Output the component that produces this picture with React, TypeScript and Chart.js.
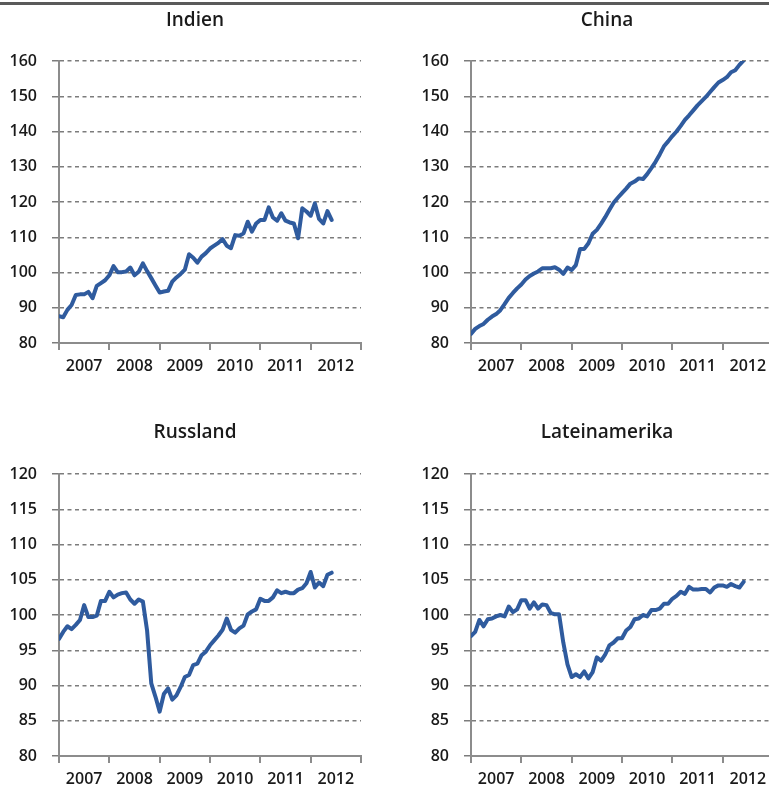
import React, { useEffect, useRef } from 'react';
import { Chart, registerables } from 'chart.js';

Chart.register(...registerables);

// ---- Data (monthly index values, Jan 2007 – Jun 2012) ----
const YEARS = ['2007', '2008', '2009', '2010', '2011', '2012'];

const INDIEN = [
  87.6, 87.3, 89.4, 90.8, 93.6, 93.8, 93.8, 94.5, 92.7, 96.2, 97.0, 97.8,
  99.2, 101.8, 100.1, 100.1, 100.3, 101.4, 99.2, 100.2, 102.6, 100.4, 98.4, 96.3,
  94.3, 94.6, 94.8, 97.4, 98.6, 99.6, 100.8, 105.2, 104.2, 102.8, 104.5, 105.5,
  106.8, 107.6, 108.4, 109.5, 107.6, 106.9, 110.6, 110.4, 111.1, 114.4, 111.6, 113.9,
  114.9, 114.9, 118.5, 115.6, 114.7, 116.8, 114.7, 114.2, 113.9, 109.7, 118.2, 117.3,
  116.1, 119.6, 115.2, 113.9, 117.4, 114.9,
];

const CHINA = [
  82.6, 84.0, 84.8, 85.4, 86.6, 87.5, 88.2, 89.3, 91.0, 92.8, 94.2, 95.5,
  96.6, 98.0, 99.0, 99.7, 100.3, 101.2, 101.2, 101.2, 101.5, 100.8, 99.6, 101.4,
  100.7, 102.1, 106.7, 106.7, 108.3, 111.0, 112.1, 113.8, 115.7, 117.8, 119.8, 121.2,
  122.5, 123.8, 125.2, 125.8, 126.7, 126.5, 127.9, 129.6, 131.4, 133.5, 135.8, 137.2,
  138.7, 140.0, 141.6, 143.3, 144.6, 146.0, 147.4, 148.6, 149.8, 151.2, 152.6, 153.9,
  154.6, 155.4, 156.8, 157.4, 158.9, 160.2,
];

const RUSSLAND = [
  96.6, 97.6, 98.4, 98.0, 98.6, 99.3, 101.4, 99.7, 99.7, 99.9, 102.0, 102.0,
  103.3, 102.5, 102.9, 103.1, 103.2, 102.2, 101.6, 102.2, 101.9, 97.8, 90.3, 88.4,
  86.3, 88.8, 89.6, 88.0, 88.6, 89.8, 91.2, 91.5, 92.9, 93.1, 94.3, 94.8,
  95.7, 96.4, 97.1, 97.9, 99.5, 97.9, 97.5, 98.1, 98.5, 100.1, 100.5, 100.8,
  102.3, 102.0, 102.0, 102.5, 103.5, 103.1, 103.3, 103.1, 103.1, 103.6, 103.8, 104.5,
  106.1, 103.9, 104.6, 104.1, 105.7, 106.0,
];

const LATEINAMERIKA = [
  97.0, 97.6, 99.3, 98.4, 99.4, 99.5, 99.8, 100.0, 99.8, 101.2, 100.4, 100.8,
  102.1, 102.1, 100.9, 101.8, 100.9, 101.5, 101.4, 100.3, 100.1, 100.1, 96.1, 93.0,
  91.2, 91.6, 91.2, 92.0, 91.0, 91.9, 94.0, 93.5, 94.4, 95.7, 96.1, 96.7,
  96.7, 97.8, 98.3, 99.4, 99.5, 100.0, 99.8, 100.7, 100.7, 100.9, 101.6, 101.6,
  102.3, 102.7, 103.3, 103.0, 104.0, 103.6, 103.6, 103.7, 103.7, 103.2, 103.9, 104.2,
  104.2, 104.0, 104.4, 104.1, 103.9, 104.7,
];

// ---- Styles ----
const FONT = "'Open Sans', 'Noto Sans', sans-serif";
const TEXT = '#1a1a1a';
const AXIS = '#8c8c8c';
const GRID = '#7c7c7c';
const LINE = '#2f5b9e';

type PanelProps = {
  title: string;
  values: number[];
  left: number;
  top: number;
  width: number;
  height: number;
  yAxisWidth: number;
  rightSpace: number;
  padBottom: number;
  titlePadTop: number;
  titlePadBottom: number;
  xAxisHeight: number;
  yMin: number;
  yMax: number;
  yStep: number;
};

function Panel(p: PanelProps) {
  const ref = useRef<HTMLCanvasElement | null>(null);

  useEffect(() => {
    if (!ref.current) return;
    const chart = new Chart(ref.current, {
      type: 'line',
      data: {
        datasets: [
          {
            data: p.values.map((v, i) => ({ x: i, y: v })),
            yAxisID: 'y',
            borderColor: LINE,
            borderWidth: 4,
            pointRadius: 0,
            tension: 0,
            fill: false,
            borderJoinStyle: 'round',
            borderCapStyle: 'round',
          },
        ],
      },
      options: {
        animation: false,
        responsive: false,
        events: [],
        layout: { padding: { left: 0, right: 0, top: 0, bottom: p.padBottom } },
        plugins: {
          legend: { display: false },
          tooltip: { enabled: false },
          title: {
            display: true,
            text: p.title,
            color: TEXT,
            font: { family: FONT, size: 19, weight: '600' as any },
            padding: { top: p.titlePadTop, bottom: p.titlePadBottom },
          },
        },
        scales: {
          x: {
            type: 'linear',
            min: 0,
            max: 72,
            afterFit: (s: any) => {
              s.height = p.xAxisHeight;
            },
            ticks: {
              stepSize: 6,
              autoSkip: false,
              maxRotation: 0,
              minRotation: 0,
              padding: 7,
              color: TEXT,
              font: { family: FONT, size: 16, weight: '600' as any },
              callback: (v: any) => {
                const n = Number(v);
                return n % 12 === 6 ? YEARS[(n - 6) / 12] : '';
              },
            },
            grid: {
              drawOnChartArea: false,
              drawTicks: true,
              tickLength: 7,
              lineWidth: 2,
              color: (c: any) =>
                c.tick && c.tick.value % 12 === 0 ? AXIS : 'rgba(0,0,0,0)',
            },
            border: { display: true, color: AXIS, width: 2 },
          },
          y: {
            position: 'left',
            min: p.yMin,
            max: p.yMax,
            afterFit: (s: any) => {
              s.width = p.yAxisWidth;
            },
            ticks: {
              stepSize: p.yStep,
              padding: 15,
              color: TEXT,
              font: { family: FONT, size: 16, weight: '600' as any },
            },
            grid: {
              color: GRID,
              lineWidth: 1.5,
              tickLength: 7,
            },
            border: { display: true, color: AXIS, width: 2, dash: [4, 3.5] },
          },
          // empty spacer on the right so that the title is centred on the panel
          spacer: {
            axis: 'y',
            type: 'linear',
            position: 'right',
            display: true,
            afterFit: (s: any) => {
              s.width = p.rightSpace;
            },
            ticks: { display: false },
            grid: { display: false, drawTicks: false },
            border: { display: false },
          },
        },
      },
    } as any);
    return () => chart.destroy();
  }, []);

  return (
    <canvas
      ref={ref}
      width={p.width}
      height={p.height}
      style={{ position: 'absolute', left: p.left, top: p.top, width: p.width, height: p.height }}
    />
  );
}

export default function App() {
  const topRow = { top: 0, height: 390, titlePadTop: 9, titlePadBottom: 29.2, padBottom: 7, xAxisHeight: 40, yMin: 80, yMax: 160, yStep: 10 };
  const bottomRow = { top: 412, height: 377, titlePadTop: 9, titlePadBottom: 30.2, padBottom: 0, xAxisHeight: 33, yMin: 80, yMax: 120, yStep: 5 };
  const leftCol = { left: 0, width: 390, yAxisWidth: 59, rightSpace: 29 };
  const rightCol = { left: 390, width: 434, yAxisWidth: 81, rightSpace: 51 };

  return (
    <div
      style={{
        position: 'absolute',
        left: 0,
        top: 0,
        width: 769,
        height: 789,
        overflow: 'hidden',
        background: '#ffffff',
      }}
    >
      <div style={{ position: 'absolute', left: 0, top: 2, width: 769, height: 3, background: '#5a5a5a' }} />
      <Panel title="Indien" values={INDIEN} {...topRow} {...leftCol} />
      <Panel title="China" values={CHINA} {...topRow} {...rightCol} />
      <Panel title="Russland" values={RUSSLAND} {...bottomRow} {...leftCol} />
      <Panel title="Lateinamerika" values={LATEINAMERIKA} {...bottomRow} {...rightCol} />
    </div>
  );
}
